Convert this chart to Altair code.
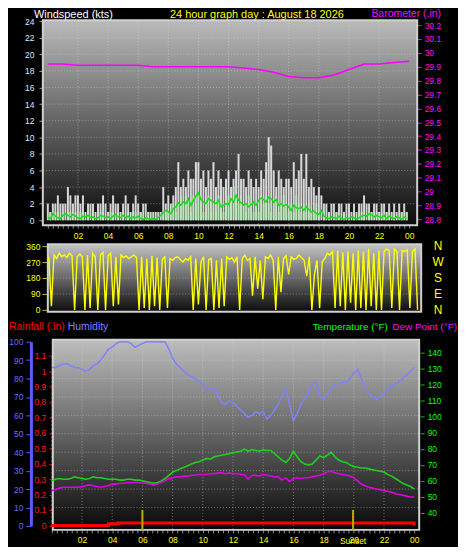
import altair as alt
import pandas as pd

FONT = "Liberation Sans"
LS = 8.5

# ---------------- data ----------------
# 10-minute wind samples, 00:00 .. 23:50
gust = [
    2, 1, 2, 2, 3, 2,
    2, 2, 4, 3, 2, 3,
    3, 2, 3, 1, 2, 2,
    2, 1, 2, 2, 3, 2,
    1, 2, 3, 2, 2, 1,
    2, 3, 2, 1, 2, 3,
    2, 1, 2, 2, 1, 1,
    1, 1, 1, 1, 4, 2,
    3, 2, 3, 4, 7, 4,
    5, 4, 6, 5, 5, 7,
    7, 5, 6, 4, 6, 5,
    7, 4, 6, 5, 4, 5,
    6, 4, 5, 6, 8, 5,
    5, 4, 6, 5, 4, 5,
    4, 6, 5, 7, 10, 9,
    6, 4, 6, 5, 4, 5,
    5, 4, 7, 5, 6, 8,
    5, 8, 4, 5, 4, 3,
    4, 3, 2, 2, 1, 2,
    2, 1, 2, 2, 1, 2,
    2, 1, 2, 1, 2, 2,
    3, 2, 2, 1, 2, 2,
    1, 2, 2, 1, 2, 1,
    2, 1, 2, 1, 2, 1,
]
speed = [
    0, 1, 0, 1, 1, 0,
    1, 0, 1, 1, 0, 1,
    0, 1, 1, 0, 1, 0,
    1, 0, 0, 1, 1, 0,
    0, 1, 1, 0, 1, 0,
    1, 0, 1, 0, 1, 1,
    0, 1, 0, 0, 1, 0,
    0, 0, 0, 0, 1, 1,
    1, 1, 2, 1, 2, 3,
    2, 3, 2, 1, 3, 2,
    3, 2, 1, 2, 3, 1,
    2, 1, 3, 2, 1, 2,
    3, 2, 4, 3, 2, 3,
    2, 1, 3, 2, 1, 2,
    1, 3, 2, 3, 2, 1,
    2, 3, 1, 2, 3, 2,
    1, 2, 1, 3, 2, 1,
    2, 1, 2, 1, 1, 2,
    1, 0, 1, 0, 1, 0,
    0, 1, 0, 0, 1, 0,
    0, 0, 1, 0, 0, 1,
    1, 0, 1, 1, 0, 1,
    0, 1, 0, 1, 0, 0,
    1, 0, 0, 1, 0, 1,
]
avg_wind = [
    0.3, 0.2, 0.8, 0.5, 0.3, 0.2,
    0.6, 0.8, 0.6, 0.4, 0.7, 0.5,
    0.3, 0.2, 0.5, 0.4, 0.6, 0.3,
    0.4, 0.2, 0.3, 0.6, 0.5, 0.3,
    0.4, 0.2, 0.5, 0.7, 0.4, 0.3,
    0.6, 0.3, 0.5, 0.2, 0.4, 0.3,
    0.5, 0.2, 0.1, 0.3, 0.2, 0.1,
    0.2, 0.1, 0.3, 0.6, 0.9, 1.2,
    1.0, 0.8, 1.4, 1.6, 2.1, 1.8,
    2.2, 2.0, 2.6, 1.8, 2.4, 2.9,
    3.3, 2.5, 2.2, 2.0, 2.6, 2.4,
    2.2, 2.0, 2.4, 1.6, 1.8, 2.0,
    1.9, 2.6, 2.2, 3.0, 2.4, 2.1,
    1.8, 2.0, 1.6, 1.9, 2.2, 1.8,
    2.4, 2.7, 2.5, 2.2, 2.8, 2.6,
    2.2, 2.5, 1.8, 2.0, 1.7, 1.9,
    1.6, 1.2, 1.8, 1.5, 1.4, 1.6,
    1.2, 1.6, 1.3, 1.0, 1.1, 0.8,
    0.7, 1.2, 0.5, 0.3, 0.2, 0.4,
    0.3, 0.2, 0.5, 0.2, 0.1, 0.3,
    0.2, 0.4, 0.3, 0.1, 0.3, 0.5,
    0.6, 0.5, 0.8, 0.7, 0.4, 0.6,
    0.4, 0.3, 0.6, 0.2, 0.5, 0.3,
    0.2, 0.4, 0.3, 0.1, 0.4, 0.2,
]
direction = [
    300, 20, 310, 290, 320, 300,
    310, 295, 320, 305, 0, 300,
    315, 300, 0, 310, 10, 320,
    300, 0, 310, 325, 0, 305,
    320, 20, 300, 30, 310, 295,
    305, 290, 300, 310, 295, 0,
    300, 10, 290, 0, 305, 20,
    295, 0, 285, 300, 10, 290,
    280, 295, 300, 285, 270, 290,
    280, 300, 0, 290, 30, 270,
    300, 0, 285, 290, 0, 280,
    10, 290, 20, 300, 285, 295,
    270, 300, 0, 290, 310, 280,
    290, 80, 300, 120, 280, 60,
    300, 290, 310, 280, 0, 300,
    100, 290, 305, 200, 300, 285,
    290, 310, 295, 280, 190, 300,
    0, 200, 280, 10, 270, 290,
    320, 310, 330, 10, 335, 20,
    325, 0, 330, 40, 320, 0,
    335, 10, 330, 0, 345, 20,
    320, 0, 335, 0, 330, 345,
    335, 10, 345, 330, 0, 335,
    330, 340, 10, 330, 345, 0,
]
baro_hours = list(range(25))
barometer = [29.92, 29.92, 29.91, 29.91, 29.91, 29.91, 29.91, 29.90, 29.90,
             29.90, 29.90, 29.90, 29.90, 29.89, 29.88, 29.86, 29.83, 29.82,
             29.82, 29.84, 29.88, 29.92, 29.92, 29.93, 29.94]
# quarter-hour samples, 00:00 .. 24:00
humidity = [
    86, 86, 87, 88, 88, 87, 86, 86, 85, 84, 85, 87, 88, 90, 93, 96,
    97, 99, 100, 100, 100, 99, 97, 98, 99, 100, 100, 100, 100, 100, 100, 96,
    91, 88, 86, 84, 82, 81, 80, 78, 77, 74, 75, 75, 71, 67, 66, 68,
    67, 65, 63, 61, 59, 60, 62, 61, 62, 58, 60, 63, 66, 71, 74, 66,
    57, 61, 66, 69, 72, 77, 78, 70, 69, 72, 74, 77, 77, 78, 78, 80,
    83, 85, 80, 75, 72, 70, 69, 70, 72, 74, 76, 77, 78, 80, 82, 84,
    86,
]
temperature = [
    60, 61, 61.5, 61, 61, 61.5, 62.5, 62, 61.5, 61, 61.5, 62.5, 62, 62, 61.5, 61,
    61, 61, 60.5, 60.5, 61, 61, 60.5, 60.5, 60, 59.5, 59, 58.5, 59, 60, 61.5, 63.5,
    65.5, 66.5, 67.5, 68.5, 69.5, 70.5, 71.5, 72, 73, 74, 73.5, 75, 75.5, 76, 76.5, 77,
    77.5, 78, 78.5, 80, 78.5, 79.5, 79, 78.5, 79.5, 79, 79, 77, 75, 73, 71.5, 74,
    78.5, 75, 72, 70.5, 70, 70.5, 73, 75.5, 74.5, 76, 78, 75, 73, 72, 71.5, 70,
    69, 68.5, 68, 68, 67.5, 67, 66.5, 66, 65.5, 64, 63, 61.5, 60, 58.5, 57.5, 56.5,
    55,
]
dewpoint = [
    54, 54.5, 55.5, 56, 56, 56, 56, 56, 56.5, 57, 57.5, 57, 56.5, 56, 56.5, 57,
    58, 58, 58.5, 58.5, 59, 59, 59, 59, 58.5, 58.5, 58, 57.5, 58, 59, 60, 61.5,
    62, 62.5, 62.5, 63, 63, 63.5, 63.5, 64, 64, 64, 64.5, 64.5, 65, 65, 64.5, 65,
    64.5, 64.5, 64, 64, 61, 63.5, 63.5, 63, 64, 63.5, 63, 62.5, 62.5, 60.5, 62, 59.5,
    61.5, 62, 61.5, 62, 62, 62.5, 63, 63.5, 64.5, 65.5, 66, 65, 64.5, 64, 63.5, 63,
    62, 60, 58, 57, 56, 55.5, 55, 54.5, 54, 53.5, 53, 52, 51.5, 51, 50.5, 50,
    50,
]
rain_hours = [0.0, 3.75, 4.4, 23.9, 24.0]
rainfall = [0.0, 0.01, 0.016, 0.016, 0.0]
sun_hours = [6.0, 19.95]
sun_names = ["Sunrise", "Sunset"]
compass_deg = [0, 90, 180, 270, 360]
compass_txt = ["N", "E", "S", "W", "N"]
grid_hours = [2, 4, 6, 8, 10, 12, 14, 16, 18, 20, 22]
wind_ticks = [0, 2, 4, 6, 8, 10, 12, 14, 16, 18, 20, 22, 24]
baro_ticks = [28.8, 28.9, 29.0, 29.1, 29.2, 29.3, 29.4, 29.5, 29.6, 29.7,
              29.8, 29.9, 30.0, 30.1, 30.2]
dir_ticks = [0, 90, 180, 270, 360]
hum_ticks = [0, 10, 20, 30, 40, 50, 60, 70, 80, 90, 100]
rain_ticks = [0, 0.1, 0.2, 0.3, 0.4, 0.5, 0.6, 0.7, 0.8, 0.9, 1.0, 1.1]
temp_ticks = [40, 50, 60, 70, 80, 90, 100, 110, 120, 130, 140]

t10 = [i / 6 for i in range(len(gust))]
t15 = [i / 4 for i in range(len(humidity))]
x_tick_values = [i / 3 for i in range(73)]

wind_df = pd.DataFrame({"t": t10, "gust": gust, "speed": speed,
                        "avg": avg_wind, "dir": direction})
baro_df = pd.DataFrame({"h": baro_hours, "p": barometer})
th_df = pd.DataFrame({"t": t15, "hum": humidity, "temp": temperature,
                      "dew": dewpoint})
rain_df = pd.DataFrame({"h": rain_hours, "r": rainfall})
sun_df = pd.DataFrame({"h": sun_hours, "name": sun_names})
compass_df = pd.DataFrame({"deg": compass_deg, "lbl": compass_txt})
grid_h_df = pd.DataFrame({"h": grid_hours})
one = pd.DataFrame({"k": [0]})

GRID = dict(color="#dcdcdc", strokeDash=[1, 2], opacity=0.45, strokeWidth=1)


def grad(top, bottom):
    return alt.LinearGradient(
        gradient="linear",
        stops=[alt.GradientStop(color=top, offset=0),
               alt.GradientStop(color=bottom, offset=1)],
        x1=0, x2=0, y1=0, y2=1)


def panel_bg(x0, x1, h, top, bottom):
    return alt.Chart(one).mark_rect(
        fill=grad(top, bottom), stroke="#d0d0d0", strokeWidth=2
    ).encode(x=alt.value(x0), x2=alt.value(x1), y=alt.value(0), y2=alt.value(h))


def txt(s, x, y, color, size=11, align="left", baseline="top"):
    return alt.Chart(one).mark_text(
        text=s, font=FONT, fontSize=size, color=color, align=align,
        baseline=baseline
    ).encode(x=alt.value(x), y=alt.value(y))


LABEL_EXPR = ("datum.value % 2 == 0 && datum.value > 0 ? "
              "(datum.value == 24 ? '00' : (datum.value < 10 ? '0' + datum.value "
              ": '' + datum.value)) : ''")

# one axis definition per scale, reused by every layer sharing that scale
X_AXIS = alt.Axis(values=x_tick_values, labelExpr=LABEL_EXPR,
                  labelColor="#ffff00", labelFont=FONT, labelFontSize=LS,
                  tickColor="#8c8c8c", tickSize=3, labelPadding=3,
                  domain=False, grid=False, title=None,
                  labelOverlap=False, labelFlush=False)
X2_AXIS = alt.Axis(values=x_tick_values, labels=False, ticks=False,
                   domain=False, grid=False, title=None)
WIND_AXIS = alt.Axis(values=wind_ticks, format="d", orient="left",
                     labelColor="#dde8ff", labelFont=FONT, labelFontSize=LS,
                     tickColor="#9a9a9a", tickSize=4, labelPadding=5,
                     domain=False, grid=False, title=None)
BARO_AXIS = alt.Axis(values=baro_ticks, format="~g", orient="right", offset=-5,
                     labelColor="#ff00ff", labelFont=FONT, labelFontSize=LS,
                     tickColor="#ff00ff", tickSize=4, labelPadding=3,
                     domain=False, grid=False, title=None)
DIR_AXIS = alt.Axis(values=dir_ticks, orient="left", offset=-5,
                    labelColor="#ffff00", labelFont=FONT, labelFontSize=LS,
                    tickColor="#b4b450", tickSize=6, labelPadding=2,
                    domain=False, grid=False, title=None)
HUM_AXIS = alt.Axis(values=hum_ticks, orient="left", offset=12,
                    labelColor="#6a6aff", labelFont=FONT, labelFontSize=LS,
                    tickColor="#5c5cff", tickSize=5, labelPadding=3,
                    domain=True, domainColor="#5c5cff", domainWidth=3,
                    grid=False, title=None)
RAIN_AXIS = alt.Axis(values=rain_ticks, format="~g", orient="left", offset=-9,
                     labelColor="#ff1a1a", labelFont=FONT, labelFontSize=LS,
                     tickColor="#ff0000", tickSize=3, labelPadding=3,
                     domain=True, domainColor="#ff0000", domainDash=[2, 2],
                     domainWidth=2, grid=False, title=None)
TEMP_AXIS = alt.Axis(values=temp_ticks, orient="right", offset=-2,
                     labelColor="#00ff00", labelFont=FONT, labelFontSize=LS,
                     tickColor="#00c000", tickSize=4, labelPadding=3,
                     domain=False, grid=False, title=None)

W = 381

# ---------------- panel 1 : wind speed + barometer ----------------
H1 = 206
xs1 = alt.Scale(domain=[0, 24], range=[0, 373], nice=False, zero=False)
wind_sc = alt.Scale(domain=[0, 24], range=[201, 1], nice=False, zero=False)
baro_sc = alt.Scale(domain=[28.8, 30.2], range=[200, 5], nice=False, zero=False)


def X1(f):
    return alt.X(f, scale=xs1, axis=X_AXIS)


bg1 = panel_bg(0, 376, H1, "#bababa", "#0c0c0c")
xgrid1 = alt.Chart(grid_h_df).mark_rule(**GRID).encode(
    x=X1("h:Q"), y=alt.value(0), y2=alt.value(H1))
ygrid1 = alt.Chart(pd.DataFrame({"v": wind_ticks[1:]})).mark_rule(**GRID).encode(
    y=alt.Y("v:Q", scale=wind_sc, axis=WIND_AXIS), x=alt.value(0), x2=alt.value(376))
gust_bars = alt.Chart(wind_df).mark_bar(width=2, color="#f4f4f4", opacity=0.85).encode(
    x=X1("t:Q"), y=alt.Y("gust:Q", scale=wind_sc, axis=WIND_AXIS))
speed_bars = alt.Chart(wind_df).mark_bar(width=2, color="#b0f0b0", opacity=0.75).encode(
    x=X1("t:Q"), y=alt.Y("speed:Q", scale=wind_sc, axis=WIND_AXIS))
avg_line = alt.Chart(wind_df).mark_line(color="#12e012", strokeWidth=1.5).encode(
    x=X1("t:Q"), y=alt.Y("avg:Q", scale=wind_sc, axis=WIND_AXIS))
wind_layer = alt.layer(ygrid1, gust_bars, speed_bars, avg_line)

baro_line = alt.Chart(baro_df).mark_line(color="#ff00ff", strokeWidth=1.5).encode(
    x=X1("h:Q"), y=alt.Y("p:Q", scale=baro_sc, axis=BARO_AXIS))

p1 = alt.layer(
    bg1, xgrid1, wind_layer, baro_line,
    txt("Windspeed (kts)", -9, -11, "#ffffff"),
    txt("24 hour graph day : August 18 2026", 215, -11, "#ffff00", align="center"),
    txt("Barometer (.in)", 330, -11, "#ff00ff", size=10.5),
).resolve_scale(y="independent").properties(width=W, height=H1)

# ---------------- panel 2 : wind direction ----------------
H2 = 77
xs2 = alt.Scale(domain=[0, 24], range=[6, 379], nice=False, zero=False)
dir_sc = alt.Scale(domain=[0, 360], range=[66, 2], nice=False, zero=False)
bg2 = panel_bg(5, 380, 68, "#c4c4c4", "#0c0c0c")
ygrid2 = alt.Chart(pd.DataFrame({"v": [90, 180, 270]})).mark_rule(**GRID).encode(
    y=alt.Y("v:Q", scale=dir_sc, axis=DIR_AXIS), x=alt.value(5), x2=alt.value(380))
dir_line = alt.Chart(wind_df).mark_line(color="#ffff00", strokeWidth=1.4).encode(
    x=alt.X("t:Q", scale=xs2, axis=X2_AXIS),
    y=alt.Y("dir:Q", scale=dir_sc, axis=DIR_AXIS))
compass = alt.Chart(compass_df).mark_text(
    font=FONT, fontSize=12, color="#ffff00", align="center", baseline="middle"
).encode(x=alt.value(397), y=alt.Y("deg:Q", scale=dir_sc, axis=DIR_AXIS),
         text="lbl:N")
p2 = alt.layer(bg2, ygrid2, dir_line, compass).properties(width=W, height=H2)

# ---------------- panel 3 : humidity, rain, temperature ----------------
H3 = 191
xs3 = alt.Scale(domain=[0, 24], range=[9, 373], nice=False, zero=False)
hum_sc = alt.Scale(domain=[0, 100], range=[187, 2], nice=False, zero=False)
rain_sc = alt.Scale(domain=[0, 1.1], range=[186.5, 16], nice=False, zero=False)
temp_sc = alt.Scale(domain=[40, 140], range=[174, 13], nice=False, zero=False)


def X3(f):
    return alt.X(f, scale=xs3, axis=X_AXIS)


bg3 = panel_bg(10, 378, H3, "#bdbdbd", "#080808")
xgrid3 = alt.Chart(grid_h_df).mark_rule(**GRID).encode(
    x=X3("h:Q"), y=alt.value(0), y2=alt.value(H3))
ygrid3 = alt.Chart(pd.DataFrame({"v": hum_ticks[1:-1]})).mark_rule(**GRID).encode(
    y=alt.Y("v:Q", scale=hum_sc, axis=HUM_AXIS), x=alt.value(10), x2=alt.value(378))
hum_line = alt.Chart(th_df).mark_line(color="#8080ff", strokeWidth=1.5).encode(
    x=X3("t:Q"), y=alt.Y("hum:Q", scale=hum_sc, axis=HUM_AXIS))
hum_layer = alt.layer(ygrid3, hum_line)

rain_line = alt.Chart(rain_df).mark_line(
    interpolate="step-after", color="#ff0000", strokeWidth=3
).encode(x=X3("h:Q"), y=alt.Y("r:Q", scale=rain_sc, axis=RAIN_AXIS))

temp_line = alt.Chart(th_df).mark_line(color="#1ed01e", strokeWidth=1.6).encode(
    x=X3("t:Q"), y=alt.Y("temp:Q", scale=temp_sc, axis=TEMP_AXIS))
dew_line = alt.Chart(th_df).mark_line(color="#e000e0", strokeWidth=1.6).encode(
    x=X3("t:Q"), y=alt.Y("dew:Q", scale=temp_sc, axis=TEMP_AXIS))
temp_layer = alt.layer(temp_line, dew_line)

sun_rules = alt.Chart(sun_df).mark_rule(color="#b8a800", strokeWidth=2).encode(
    x=X3("h:Q"), y=alt.value(171), y2=alt.value(191))
sunset_txt = alt.Chart(sun_df[sun_df["name"] == "Sunset"]).mark_text(
    font=FONT, fontSize=LS, color="#ffff00", align="center", baseline="middle"
).encode(x=X3("h:Q"), y=alt.value(202), text="name:N")

p3 = alt.layer(
    bg3, xgrid3, hum_layer, rain_line, temp_layer, sun_rules, sunset_txt,
    txt("Rainfall (.in)", -34, -13, "#ff0000", size=10.5, baseline="middle"),
    txt("Humidity", 25, -13, "#8080ff", size=10.5, baseline="middle"),
    txt("Temperature (°F)", 271, -13, "#00ff00", size=10, baseline="middle"),
    txt("Dew Point (°F)", 351, -13, "#ff00ff", size=10, baseline="middle"),
).resolve_scale(y="independent").properties(width=W, height=H3)

chart = alt.vconcat(
    p1, p2, p3, spacing=19, bounds="flush", padding=0, background="#000000"
).configure_view(strokeWidth=0).configure_axis(labelFont=FONT, labelFontSize=LS)

chart.save("out.html", embed_options={"renderer": "svg", "actions": False})
